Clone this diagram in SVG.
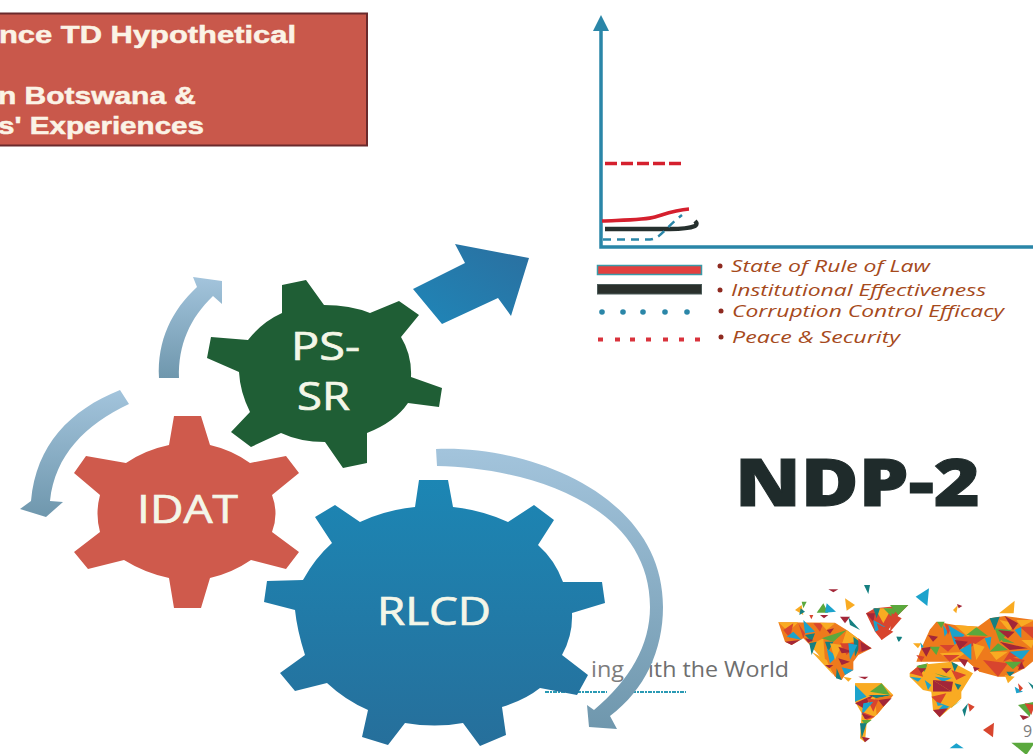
<svg xmlns="http://www.w3.org/2000/svg" width="1033" height="754" viewBox="0 0 1033 754">
<style>
text{font-family:"Open Sans","Liberation Sans",sans-serif}
.gl{fill:#f4f6e8;stroke:#f4f6e8;stroke-width:.7;font-size:39px}
.hd{font-family:"Liberation Sans",Arial,sans-serif;font-weight:700;font-size:24px;fill:#fbf3e6;stroke:#fbf3e6;stroke-width:.5}
.lg{font-style:italic;font-size:16px;fill:#a64a1c}
.bu{fill:#8e2a20}
.rd{fill:#d9333c}
.bd{fill:#2a86a8}
.O{fill:#f9ab24}.R{fill:#d8452e}.D{fill:#a32638}.B{fill:#1ca3cc}.T{fill:#127f80}.G{fill:#5aa83c}.A{fill:#ee7a1e}
</style>
<defs>
<linearGradient id="ca" x1="0" y1="0" x2="0" y2="1"><stop offset="0" stop-color="#a3c4dc"/><stop offset="1" stop-color="#6f97ad"/></linearGradient>
<linearGradient id="rl" x1="0" y1="0" x2="0" y2="1"><stop offset="0" stop-color="#1c86b4"/><stop offset="1" stop-color="#266f9b"/></linearGradient>
<linearGradient id="ba" x1="0" y1="1" x2="1" y2="0"><stop offset="0" stop-color="#1f86b8"/><stop offset="1" stop-color="#2b6f9f"/></linearGradient>
<filter id="sf" x="-5%" y="-5%" width="110%" height="110%"><feGaussianBlur stdDeviation="1.500"/></filter>
</defs>
<rect width="1033" height="754" fill="#fff"/>

<g id="title-box">
<rect x="-5" y="13.500" width="372" height="132" fill="#c9584b" stroke="#6a2a2c" stroke-width="2"/>
<text class="hd" x="-1" y="43" textLength="297" lengthAdjust="spacingAndGlyphs">nce TD Hypothetical</text>
<text class="hd" x="-2" y="104" textLength="198" lengthAdjust="spacingAndGlyphs">n Botswana &amp;</text>
<text class="hd" x="-2" y="134" textLength="206" lengthAdjust="spacingAndGlyphs">s' Experiences</text>
</g>

<g id="chart" fill="none">
<path d="M601,28V247H1033" stroke="#2a86a8" stroke-width="3.500"/>
<path d="M601,15L609,31H593Z" fill="#2a86a8"/>
<path d="M605,163.500H682" stroke="#d5202e" stroke-width="3.500" stroke-dasharray="12 4"/>
<path d="M602,221C625,220 645,220 655,217S675,210 689,209" stroke="#d5202e" stroke-width="3.500"/>
<path d="M605,229H670C680,229 690,228 695,226Q698,224 695,221" stroke="#26302e" stroke-width="4.500"/>
<path d="M603,239.500H650C660,239 665,228 682,215" stroke="#2a86a8" stroke-width="2.500" stroke-dasharray="8 6"/>
</g>

<g id="legend">
<rect x="597.500" y="265.500" width="104" height="9" fill="#e2403f" stroke="#3a9aa8" stroke-width="1.500"/>
<rect x="597.500" y="284.500" width="104" height="9.500" fill="#2a302c" stroke="#4a5a58"/>
<circle class="bd" cx="602" cy="312" r="2.800"/><circle class="bd" cx="623" cy="312" r="2.800"/><circle class="bd" cx="643" cy="312" r="2.800"/><circle class="bd" cx="665" cy="312" r="2.800"/><circle class="bd" cx="687" cy="312" r="2.800"/>
<rect class="rd" x="598" y="337.500" width="5" height="4"/><rect class="rd" x="615" y="337.500" width="5" height="4"/><rect class="rd" x="630" y="337.500" width="5" height="4"/><rect class="rd" x="646" y="337.500" width="5" height="4"/><rect class="rd" x="663" y="337.500" width="5" height="4"/><rect class="rd" x="679" y="337.500" width="5" height="4"/><rect class="rd" x="695" y="337.500" width="5" height="4"/>
<circle class="bu" cx="720" cy="266" r="2.500"/><circle class="bu" cx="720" cy="290" r="2.500"/><circle class="bu" cx="721" cy="311" r="2.500"/><circle class="bu" cx="721" cy="337" r="2.500"/>
<text class="lg" x="731" y="272" textLength="199" lengthAdjust="spacingAndGlyphs">State of Rule of Law</text>
<text class="lg" x="731" y="296" textLength="255" lengthAdjust="spacingAndGlyphs">Institutional Effectiveness</text>
<text class="lg" x="732" y="317" textLength="272" lengthAdjust="spacingAndGlyphs">Corruption Control Efficacy</text>
<text class="lg" x="732" y="343" textLength="168" lengthAdjust="spacingAndGlyphs">Peace &amp; Security</text>
</g>

<g id="ndp-title"><text x="735" y="506" font-size="66" font-weight="800" fill="#1f2b2b" stroke="#1f2b2b" stroke-width="1" textLength="245" lengthAdjust="spacingAndGlyphs">NDP-2</text></g>

<g id="tagline">
<text x="591" y="677" font-size="22" fill="#7d7d7d" textLength="33" lengthAdjust="spacingAndGlyphs">ing</text>
<text x="648" y="677" font-size="22" fill="#6f6f6f" textLength="141" lengthAdjust="spacingAndGlyphs">ith the World</text>
<path d="M545,692H607M632,692H686" stroke="#2a9ab4" stroke-width="2" stroke-dasharray="4 1 2 1" fill="none"/>
</g>

<g id="map-west" filter="url(#sf)" transform="translate(770,580) scale(.33333)">
<polygon class="A" points="25,127 195,128 230,150 270,180 305,205 265,225 250,245 250,270 225,285 215,300 195,290 165,245 120,195 100,175 65,195 45,185"/>
<polygon class="O" points="255,310 335,310 370,345 320,405 290,430 285,487 270,475 275,400 255,365"/>
<polygon class="R" points="288,100 315,85 415,75 385,105 335,180 315,155"/>
<polygon class="O" points="25,127 85,127 55,155"/><polygon class="R" points="40,150 70,130 60,175"/><polygon class="B" points="50,170 70,155 95,180"/><polygon class="D" points="45,185 90,180 65,195"/>
<polygon class="B" points="100,120 135,155 105,160"/><polygon class="R" points="85,130 105,160 100,175"/><polygon class="T" points="105,165 135,160 125,185"/><polygon class="D" points="105,175 130,180 115,188"/>
<polygon class="R" points="130,130 160,130 150,155"/><polygon class="O" points="150,128 195,130 170,150"/><polygon class="D" points="170,150 192,145 180,162"/>
<polygon class="O" points="120,195 160,175 165,245"/><polygon class="O" points="125,215 170,240 190,285"/><polygon class="T" points="118,190 140,185 125,225"/>
<polygon class="O" points="230,150 270,180 215,195"/><polygon class="G" points="155,175 230,150 190,185"/><polygon class="T" points="165,185 190,185 175,215"/><polygon class="B" points="170,205 200,230 180,250"/><polygon class="O" points="180,190 215,195 195,240"/>
<polygon class="R" points="210,190 265,190 230,225"/><polygon class="D" points="205,200 250,215 215,220"/><polygon class="T" points="250,170 275,190 255,230"/><polygon class="B" points="235,190 262,195 240,240"/><polygon class="R" points="265,175 300,205 265,220"/><polygon class="D" points="272,185 305,205 275,215"/>
<polygon class="A" points="200,230 250,240 225,270"/><polygon class="D" points="205,235 240,245 215,255"/><polygon class="D" points="165,255 190,255 178,265"/><polygon class="T" points="200,265 215,300 198,295"/><polygon class="B" points="215,262 250,270 225,285"/><polygon class="O" points="220,290 245,295 235,305"/><polygon class="D" points="265,290 295,290 285,298"/>
<polygon class="O" points="75,90 95,75 100,105"/><polygon class="G" points="95,65 110,65 100,85"/><polygon class="T" points="92,85 105,95 88,105"/><polygon class="R" points="118,105 130,105 124,118"/>
<polygon class="G" points="140,98 175,98 160,70"/><polygon class="B" points="170,70 198,95 165,98"/><polygon class="D" points="150,105 175,105 162,115"/><polygon class="O" points="225,55 255,75 230,92"/><polygon class="D" points="175,28 205,28 190,37"/><polygon class="T" points="282,15 300,15 295,42"/>
<polygon class="D" points="210,110 240,110 225,130"/><polygon class="T" points="235,112 270,150 240,135"/>
<polygon class="O" points="315,85 365,85 340,130"/><polygon class="G" points="340,85 385,85 365,110"/><polygon class="G" points="360,75 415,75 385,105"/><polygon class="D" points="288,100 315,100 310,125"/><polygon class="R" points="365,100 395,115 360,155"/><polygon class="B" points="310,120 345,140 315,155"/><polygon class="R" points="320,130 370,155 335,180"/><polygon class="T" points="310,85 330,85 320,115"/><polygon class="T" points="380,170 395,170 385,185"/>
<polygon class="O" points="255,310 335,310 295,340"/><polygon class="G" points="300,335 335,310 360,345"/><polygon class="B" points="255,315 290,350 255,365"/><polygon class="T" points="295,345 365,345 320,355"/><polygon class="A" points="315,355 370,345 320,405"/><polygon class="D" points="255,370 310,345 280,385"/><polygon class="R" points="290,355 325,360 310,395"/><polygon class="B" points="280,370 310,365 275,405"/><polygon class="D" points="325,360 365,355 340,380"/><polygon class="R" points="275,395 315,410 290,420"/><polygon class="D" points="275,400 305,410 285,418"/><polygon class="G" points="275,420 305,420 285,435"/><polygon class="T" points="270,430 290,430 275,475"/><polygon class="D" points="275,470 300,475 285,487"/>
</g>
<g id="map-east" filter="url(#sf)" transform="translate(893,580) scale(.33333)">
<polygon class="A" points="110,150 130,125 185,135 255,140 290,115 335,108 425,120 425,240 395,265 345,290 315,290 260,275 225,245 140,245 70,245 85,205"/>
<polygon class="O" points="50,280 80,255 175,245 240,280 205,335 205,355 165,390 140,412 120,390 115,335 90,330 50,290"/>
<polygon class="B" points="68,50 108,25 103,78"/><polygon class="O" points="180,90 195,75 190,100"/><polygon class="D" points="192,72 208,78 197,85"/><polygon class="O" points="318,100 365,62 362,100"/>
<polygon class="A" points="110,150 130,130 140,165"/><polygon class="G" points="132,125 155,125 145,145"/><polygon class="D" points="105,165 135,170 120,185"/><polygon class="B" points="150,135 165,155 155,170"/><polygon class="R" points="155,130 175,140 165,165"/><polygon class="O" points="185,135 255,140 225,170"/><polygon class="B" points="165,135 215,165 185,195"/><polygon class="G" points="220,165 285,168 250,142"/>
<polygon class="O" points="60,190 85,190 75,205"/><polygon class="B" points="82,187 92,200 85,205"/><polygon class="D" points="85,205 115,200 100,230"/><polygon class="G" points="110,200 140,200 130,225"/><polygon class="R" points="70,225 95,230 85,245"/><polygon class="R" points="140,195 185,195 165,215"/>
<polygon class="O" points="140,220 225,215 175,245"/><polygon class="R" points="180,170 280,170 220,210"/><polygon class="D" points="185,180 225,185 200,210"/><polygon class="B" points="200,210 235,190 235,240"/><polygon class="R" points="150,225 200,225 170,245"/><polygon class="O" points="240,190 275,200 250,240"/><polygon class="A" points="225,245 285,250 260,275"/><polygon class="D" points="195,235 225,240 215,260"/><polygon class="R" points="270,240 345,250 315,290"/><polygon class="D" points="240,260 260,265 245,275"/><polygon class="B" points="275,175 295,170 290,210"/>
<polygon class="T" points="290,115 320,110 305,150"/><polygon class="O" points="320,120 365,130 350,155"/><polygon class="D" points="335,108 375,130 360,150"/><polygon class="G" points="305,145 355,150 320,185"/><polygon class="R" points="380,140 425,140 425,180"/><polygon class="O" points="370,120 425,120 385,140"/><polygon class="B" points="365,150 385,140 385,175"/><polygon class="D" points="315,150 365,155 345,175"/><polygon class="G" points="315,165 365,190 330,185"/><polygon class="O" points="290,215 345,215 310,240"/><polygon class="G" points="290,215 345,210 315,190"/><polygon class="D" points="320,185 405,205 350,210"/><polygon class="O" points="385,180 425,180 415,205"/><polygon class="R" points="330,245 350,215 395,220"/><polygon class="B" points="350,215 410,210 385,240"/><polygon class="R" points="345,230 395,240 380,265"/><polygon class="G" points="335,245 385,245 360,268"/><polygon class="D" points="385,245 395,265 375,270"/><polygon class="T" points="340,275 365,275 350,290"/><polygon class="O" points="335,285 365,290 345,310"/>
<polygon class="B" points="365,320 390,335 370,340"/><polygon class="R" points="375,310 390,325 380,335"/><polygon class="T" points="405,305 425,320 425,335"/><polygon class="G" points="375,375 425,365 410,410"/><polygon class="D" points="380,405 410,410 390,420"/><polygon class="R" points="395,370 425,375 415,405"/><polygon class="T" points="10,170 28,172 18,185"/>
<polygon class="R" points="50,280 80,255 90,290"/><polygon class="B" points="50,290 85,295 75,305"/><polygon class="G" points="70,258 105,250 95,275"/><polygon class="D" points="75,265 100,265 85,280"/><polygon class="O" points="100,250 145,270 110,285"/><polygon class="D" points="145,265 175,265 160,280"/><polygon class="O" points="90,285 125,285 110,320"/><polygon class="B" points="95,300 115,315 105,330"/><polygon class="O" points="175,280 240,280 195,300"/><polygon class="R" points="175,270 220,285 190,300"/><polygon class="G" points="125,280 180,295 150,290"/><polygon class="B" points="125,290 175,295 150,305"/><polygon class="T" points="175,245 195,255 185,275"/>
<polygon class="D" points="120,300 180,305 175,335"/><polygon class="D" points="120,300 175,335 120,335"/><polygon class="O" points="180,300 205,320 185,335"/><polygon class="T" points="185,310 205,315 195,330"/><polygon class="O" points="115,335 205,335 160,380"/><polygon class="R" points="115,350 160,340 140,375"/><polygon class="O" points="165,340 205,355 175,385"/><polygon class="B" points="130,365 170,380 140,395"/><polygon class="G" points="170,385 205,360 190,372"/><polygon class="O" points="120,380 150,375 130,395"/><polygon class="D" points="120,390 165,385 140,412"/>
<polygon class="T" points="208,390 225,370 215,410"/><polygon class="R" points="225,370 245,380 230,395"/><polygon class="R" points="270,450 303,428 300,472"/><polygon class="B" points="170,505 212,505 190,490"/><polygon class="G" points="355,488 425,488 400,525"/>
</g>
<text id="map-note" x="1023" y="737" font-size="16" fill="#7d7d7d">9</text>

<g id="connectors">
<path fill="url(#ca)" d="M159,378C157,340 172,310 197,287L193,277L222,281L222,304L213,296C190,318 178,345 179,378Z"/>
<path fill="url(#ca)" d="M120,390L129,404C85,425 55,455 50,501L63,502L46,517L20,509L31,501C36,445 70,410 120,390Z"/>
<path fill="url(#ca)" d="M436,449C530,445 663,495 663,607C663,650 645,690 610,716L617,729L589,727L587,705L594,710C630,680 650,645 650,607C650,505 530,468 437,466Z"/>
<path fill="url(#ba)" d="M413,289L465,263L455,244L529,258L511,316L498,298L442,324Z"/>
</g>

<g id="node-idat">
<path fill="#cf5a4c" d="M174,416H196L201,416L210,445Q232,450 250,463L286,456L299,473L272,495Q279,514 272,532L299,552L286,569L251,560Q232,573 210,578L201,608H174L169,578Q145,573 124,560L88,569L74,552L100,532Q95,514 100,495L74,473L86,456L126,463Q145,450 169,445Z"/>
<text class="gl" x="137" y="523" textLength="101" lengthAdjust="spacingAndGlyphs">IDAT</text>
</g>

<g id="node-pssr">
<path fill="#1f5e35" d="M282,313V285L306,280L324,305Q350,305 370,313L399,301L419,315L401,337Q412,355 411,377L442,388L439,407L408,403Q395,422 367,433V463L343,468L325,442Q300,442 281,433L251,447L231,432L250,412Q240,392 239,372L207,358L211,337L248,340Q262,322 282,313Z"/>
<text class="gl" x="291" y="360" textLength="69" lengthAdjust="spacingAndGlyphs">PS-</text>
<text class="gl" x="297" y="410" textLength="53" lengthAdjust="spacingAndGlyphs">SR</text>
</g>

<g id="node-rlcd">
<path fill="url(#rl)" d="M419,480H448L453,507Q482,510 508,522L534,505L554,520L538,545Q555,560 563,582H602L605,603L572,613Q573,635 562,655L588,675L577,695L540,688Q525,700 502,707L506,735L480,746L463,723Q435,728 405,723L388,745L362,737L368,710Q345,700 327,683L295,691L280,673L305,655Q297,630 295,610L264,602L267,581L303,580Q315,558 332,543L315,517L335,505L360,522Q385,510 415,507Z"/>
<text class="gl" x="377" y="625" textLength="114" lengthAdjust="spacingAndGlyphs">RLCD</text>
</g>
</svg>
